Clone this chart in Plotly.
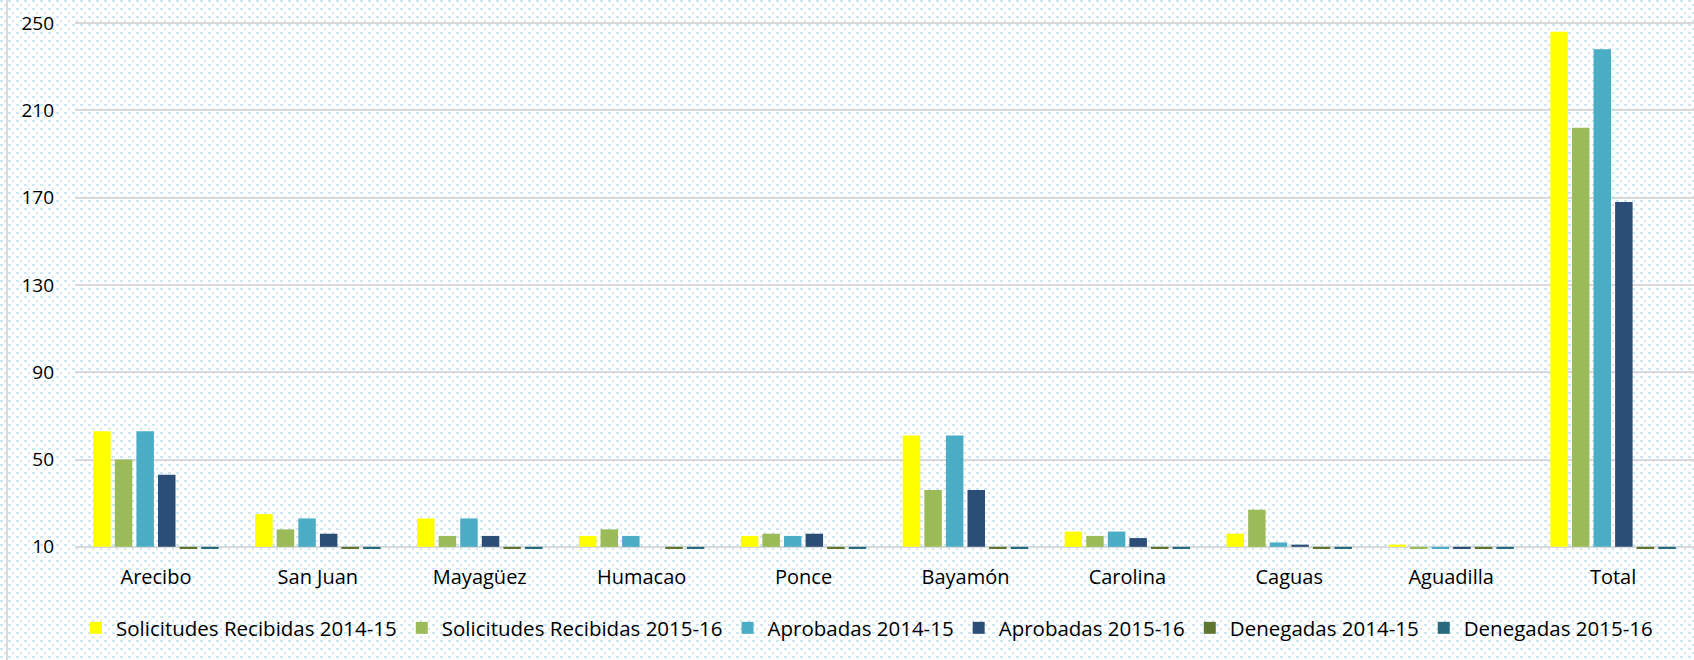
import base64
import plotly.graph_objects as go

# ---------------- data ----------------
categories = ["Arecibo", "San Juan", "Mayagüez", "Humacao", "Ponce",
              "Bayamón", "Carolina", "Caguas", "Aguadilla", "Total"]

solicitudes_2014_15 = [63, 25, 23, 15, 15, 61, 17, 16, 11, 246]
solicitudes_2015_16 = [50, 18, 15, 18, 16, 36, 15, 27, 7, 202]
aprobadas_2014_15 = [63, 23, 23, 15, 15, 61, 17, 12, 9, 238]
aprobadas_2015_16 = [43, 16, 15, 10, 16, 36, 14, 11, 7, 168]
denegadas_2014_15 = [0, 0, 0, 0, 0, 0, 0, 0, 0, 0]
denegadas_2015_16 = [0, 0, 0, 0, 0, 0, 0, 0, 0, 0]

series_names = ["Solicitudes Recibidas 2014-15", "Solicitudes Recibidas 2015-16",
                "Aprobadas 2014-15", "Aprobadas 2015-16",
                "Denegadas 2014-15", "Denegadas 2015-16"]
series_values = [solicitudes_2014_15, solicitudes_2015_16,
                 aprobadas_2014_15, aprobadas_2015_16,
                 denegadas_2014_15, denegadas_2015_16]
series_colors = ["#FFFF00", "#9BBB59", "#4BACC6", "#2C4D75", "#5F7530", "#276A7C"]

y_ticks = [10, 50, 90, 130, 170, 210, 250]
AXIS_CROSS = 10  # horizontal axis crosses at 10; bars grow from there

FONT = "Segoe UI, Open Sans, Noto Sans, sans-serif"

fig = go.Figure()
for name, vals, col in zip(series_names, series_values, series_colors):
    fig.add_trace(go.Bar(
        x=categories,
        y=[v - AXIS_CROSS for v in vals],
        base=AXIS_CROSS,
        customdata=vals,
        hovertemplate="%{x}<br>" + name + ": %{customdata}<extra></extra>",
        name=name,
        marker=dict(color=col, line=dict(width=0)),
    ))

# background dotted pattern (decorative, like the Excel pattern fill)
svg = (
    "<svg xmlns='http://www.w3.org/2000/svg' width='1694' height='660'>"
    "<defs><pattern id='p' width='8' height='8' patternUnits='userSpaceOnUse'>"
    "<rect x='0' y='0' width='3' height='2' fill='#cde6f0'/>"
    "<rect x='4' y='4' width='2' height='2' fill='#cde6f0'/>"
    "</pattern></defs>"
    "<rect width='1694' height='660' fill='#ffffff'/>"
    "<rect width='1694' height='660' fill='url(#p)'/>"
    "</svg>"
)
src = "data:image/svg+xml;base64," + base64.b64encode(svg.encode()).decode()

W, H = 1694, 660
ML, MR, MT, MB = 75, 0, 22, 111
pw, ph = W - ML - MR, H - MT - MB

fig.add_layout_image(dict(
    source=src, xref="paper", yref="paper",
    x=-ML / pw, y=1 + MT / ph, sizex=W / pw, sizey=H / ph,
    xanchor="left", yanchor="top", sizing="stretch", layer="below",
))

# left chart-area border
fig.add_shape(type="line", xref="paper", yref="paper",
              x0=(7 - ML) / pw, x1=(7 - ML) / pw, y0=-MB / ph, y1=1 + MT / ph,
              line=dict(color="#d9d9d9", width=2))

fig.update_layout(
    width=W, height=H, autosize=False,
    margin=dict(l=ML, r=MR, t=MT, b=MB, pad=0),
    paper_bgcolor="#ffffff",
    plot_bgcolor="rgba(0,0,0,0)",
    barmode="group",
    bargap=0.2,
    bargroupgap=0.19,
    font=dict(family=FONT, size=19, color="#000000"),
    showlegend=True,
    legend=dict(
        orientation="h",
        x=(867 - ML) / pw, xanchor="center",
        y=-(628 - (MT + ph)) / ph, yanchor="middle",
        font=dict(family=FONT, size=20.5, color="#000000"),
        bgcolor="rgba(0,0,0,0)",
        traceorder="normal",
    ),
    xaxis=dict(
        showgrid=False, showline=False, ticks="",
        tickfont=dict(family=FONT, size=20, color="#000000"),
        ticklabelstandoff=14,
    ),
    yaxis=dict(
        range=[9.0, 250.5],
        tickvals=y_ticks,
        showgrid=True, gridcolor="#d9d9d9", gridwidth=2,
        zeroline=False, showline=False, ticks="",
        tickfont=dict(family=FONT, size=19, color="#000000"),
        ticklabelstandoff=20,
    ),
)

fig.write_html(
    "out.html",
    config={"displayModeBar": False},
    post_script="document.body.style.margin='0';document.body.style.overflow='hidden';",
)
